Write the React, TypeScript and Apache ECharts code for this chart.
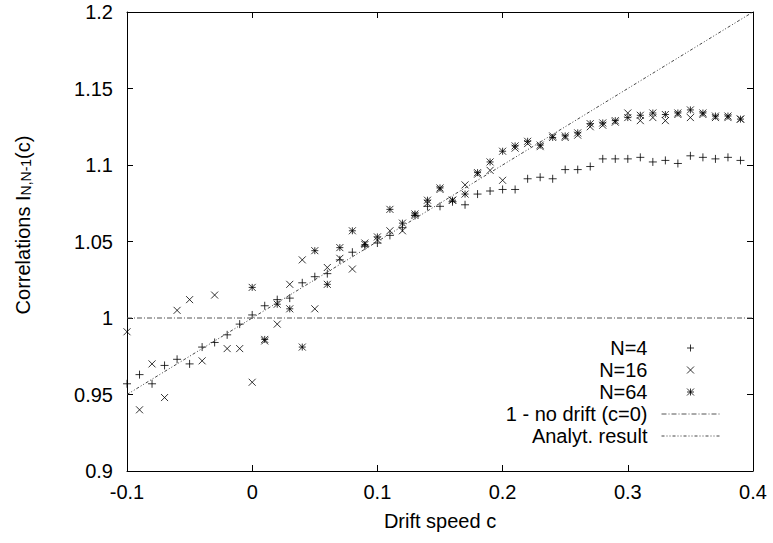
import React, { useEffect, useRef } from "react";
import * as echarts from "echarts";

const driftC = [-0.1, -0.09, -0.08, -0.07, -0.06, -0.05, -0.04, -0.03, -0.02, -0.01, 0, 0.01, 0.02, 0.03, 0.04, 0.05, 0.06, 0.07, 0.08, 0.09, 0.1, 0.11, 0.12, 0.13, 0.14, 0.15, 0.16, 0.17, 0.18, 0.19, 0.2, 0.21, 0.22, 0.23, 0.24, 0.25, 0.26, 0.27, 0.28, 0.29, 0.3, 0.31, 0.32, 0.33, 0.34, 0.35, 0.36, 0.37, 0.38, 0.39];
const driftC64 = [0, 0.01, 0.02, 0.03, 0.04, 0.05, 0.06, 0.07, 0.08, 0.09, 0.1, 0.11, 0.12, 0.13, 0.14, 0.15, 0.16, 0.17, 0.18, 0.19, 0.2, 0.21, 0.22, 0.23, 0.24, 0.25, 0.26, 0.27, 0.28, 0.29, 0.3, 0.31, 0.32, 0.33, 0.34, 0.35, 0.36, 0.37, 0.38, 0.39];

const n4 = [0.957, 0.963, 0.957, 0.969, 0.973, 0.970, 0.981, 0.984, 0.989, 0.996, 1.002, 1.008, 1.012, 1.013, 1.023, 1.027, 1.029, 1.038, 1.043, 1.047, 1.049, 1.054, 1.059, 1.067, 1.073, 1.073, 1.076, 1.074, 1.081, 1.083, 1.084, 1.084, 1.091, 1.092, 1.091, 1.097, 1.097, 1.099, 1.104, 1.104, 1.104, 1.105, 1.102, 1.103, 1.101, 1.106, 1.105, 1.104, 1.105, 1.103];
const n16 = [0.991, 0.940, 0.970, 0.948, 1.005, 1.012, 0.972, 1.015, 0.980, 0.980, 0.958, 0.985, 0.996, 1.022, 1.038, 1.006, 1.033, 1.039, 1.032, 1.049, 1.051, 1.057, 1.057, 1.067, 1.075, 1.084, 1.077, 1.087, 1.094, 1.0965, 1.090, 1.111, 1.114, 1.112, 1.119, 1.118, 1.1195, 1.125, 1.126, 1.128, 1.134, 1.129, 1.131, 1.129, 1.133, 1.131, 1.133, 1.131, 1.131, 1.130];
const n64 = [1.020, 0.986, 1.009, 1.006, 0.981, 1.044, 1.022, 1.046, 1.057, 1.048, 1.053, 1.071, 1.062, 1.068, 1.077, 1.085, 1.077, 1.081, 1.095, 1.102, 1.109, 1.1125, 1.1155, 1.113, 1.118, 1.119, 1.121, 1.127, 1.1275, 1.129, 1.131, 1.1325, 1.134, 1.133, 1.134, 1.136, 1.134, 1.132, 1.132, 1.130];

const noDriftX = [-0.1, 0.4];
const noDriftY = [1, 1];
const analytX = [-0.1, 0.4];
const analytY = [0.95, 1.2];

const seriesNames = ["N=4", "N=16", "N=64", "1 - no drift (c=0)", "Analyt. result"];
const xTicks = { min: -0.1, max: 0.4, interval: 0.1 };
const yTicks = { min: 0.9, max: 1.2, interval: 0.05 };

const FONT = "Liberation Sans, Arial, Helvetica, sans-serif";
const PLUS = "path://M0 5L10 5M5 0L5 10";
const CROSS = "path://M0 0L10 10M10 0L0 10";
const STAR = "path://M0 5L10 5M5 0L5 10M0 0L10 10M10 0L0 10";

const zip = (xs: number[], ys: number[]) => xs.map((x, i) => [x, ys[i]]);
const fmt = (v: number) => String(parseFloat(v.toFixed(3)));

export default function App() {
  const ref = useRef<HTMLDivElement>(null);
  useEffect(() => {
    if (!ref.current) return;
    const chart = echarts.init(ref.current, null, { renderer: "svg" });
    const scatterStyle = { color: "#000", borderColor: "#000", borderWidth: 1 };
    const hiddenSymbol = { color: "transparent", borderColor: "transparent", opacity: 0 };
    const axisCommon = {
      type: "value" as const,
      axisLine: { show: true, onZero: false, lineStyle: { color: "#000", width: 1 } },
      axisTick: { show: true, inside: true, length: 6, lineStyle: { color: "#000" } },
      splitLine: { show: false },
    };
    chart.setOption({
      animation: false,
      backgroundColor: "#fff",
      textStyle: { fontFamily: FONT },
      grid: { left: 127, right: 20, top: 12, bottom: 72, containLabel: false },
      xAxis: [
        {
          ...axisCommon,
          position: "bottom",
          ...xTicks,
          axisLabel: { margin: 11, fontSize: 20, color: "#000", fontFamily: FONT, formatter: fmt },
          name: "Drift speed c",
          nameLocation: "middle",
          nameGap: 40,
          nameTextStyle: { fontSize: 20, color: "#000", fontFamily: FONT },
        },
        { ...axisCommon, position: "top", ...xTicks, axisLabel: { show: false } },
      ],
      yAxis: [
        {
          ...axisCommon,
          position: "left",
          ...yTicks,
          axisLabel: { margin: 14, fontSize: 20, color: "#000", fontFamily: FONT, formatter: fmt },
        },
        { ...axisCommon, position: "right", ...yTicks, axisLabel: { show: false } },
      ],
      legend: {
        orient: "vertical",
        right: 48,
        top: 332,
        align: "right",
        itemWidth: 58,
        itemHeight: 7,
        itemGap: 0,
        selectedMode: false,
        symbolKeepAspect: true,
        itemStyle: { borderWidth: 1 },
        lineStyle: { width: 1 },
        textStyle: { fontSize: 20, color: "#000", fontFamily: FONT, lineHeight: 22, padding: [0, 9, 0, 0] },
        data: [
          seriesNames[0],
          seriesNames[1],
          seriesNames[2],
          { name: seriesNames[3], itemStyle: hiddenSymbol },
          { name: seriesNames[4], itemStyle: hiddenSymbol },
        ],
      },
      graphic: [
        {
          type: "text",
          x: 22,
          y: 225,
          rotation: Math.PI / 2,
          style: {
            text: "{a|Correlations I}{s|N,N-1}{a|(c)}",
            align: "center",
            verticalAlign: "middle",
            fill: "#000",
            rich: {
              a: { fontSize: 20, fontFamily: FONT, lineHeight: 22, fill: "#000", verticalAlign: "bottom" },
              s: { fontSize: 14, fontFamily: FONT, lineHeight: 13, fill: "#000", verticalAlign: "bottom" },
            },
          },
        },
      ],
      series: [
        {
          name: seriesNames[0],
          type: "scatter",
          symbol: PLUS,
          symbolSize: 8,
          itemStyle: scatterStyle,
          data: zip(driftC, n4),
        },
        {
          name: seriesNames[1],
          type: "scatter",
          symbol: CROSS,
          symbolSize: 7,
          itemStyle: scatterStyle,
          data: zip(driftC, n16),
        },
        {
          name: seriesNames[2],
          type: "scatter",
          symbol: STAR,
          symbolSize: 7,
          itemStyle: scatterStyle,
          data: zip(driftC64, n64),
        },
        {
          name: seriesNames[3],
          type: "line",
          symbol: "none",
          showSymbol: false,
          lineStyle: { color: "#555", width: 1, type: [5, 2, 1, 2] },
          itemStyle: { color: "#555" },
          data: zip(noDriftX, noDriftY),
        },
        {
          name: seriesNames[4],
          type: "line",
          symbol: "none",
          showSymbol: false,
          lineStyle: { color: "#444", width: 1, type: [3, 2, 1, 2, 1, 2] },
          itemStyle: { color: "#444" },
          data: zip(analytX, analytY),
        },
      ],
    });
    return () => chart.dispose();
  }, []);
  return <div ref={ref} style={{ width: 773, height: 543, position: "absolute", left: 0, top: 0 }} />;
}
